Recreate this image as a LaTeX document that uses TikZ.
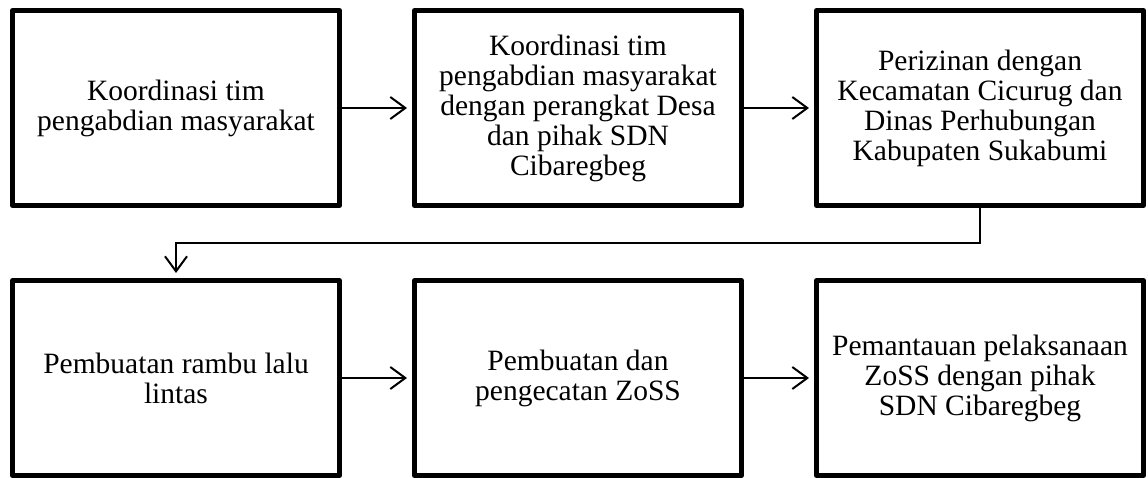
\documentclass[tikz,border=0pt]{standalone}
\usepackage{fontspec}
\setmainfont{Liberation Serif}
\usetikzlibrary{arrows.meta}
\begin{document}
\begin{tikzpicture}[x=1pt,y=1pt,
  stepbox/.style={draw, line width=5pt, line join=round, minimum width=327pt, minimum height=195pt, inner sep=0pt, align=center, font=\fontsize{29.5pt}{30pt}\selectfont},
  flow/.style={line width=2pt, -{Straight Barb[length=15pt,width=22pt]}, shorten >=5pt}]
\useasboundingbox (0,0) rectangle (1148,-478);
\node[stepbox] (b1) at (176,-108) {Koordinasi tim\\pengabdian masyarakat};
\node[stepbox] (b2) at (578,-108) {Koordinasi tim\\pengabdian masyarakat\\dengan perangkat Desa\\dan pihak SDN\\Cibaregbeg};
\node[stepbox] (b3) at (980,-108) {Perizinan dengan\\Kecamatan Cicurug dan\\Dinas Perhubungan\\Kabupaten Sukabumi};
\node[stepbox] (b4) at (176,-378) {Pembuatan rambu lalu\\lintas};
\node[stepbox] (b5) at (578,-378) {Pembuatan dan\\pengecatan ZoSS};
\node[stepbox] (b6) at (980,-378) {Pemantauan pelaksanaan\\ZoSS dengan pihak\\SDN Cibaregbeg};
\coordinate (turn) at (980,-243);
\draw[flow] (b1) -- (b2);
\draw[flow] (b2) -- (b3);
\draw[flow] (b3.south) -- (turn) -| (b4.north);
\draw[flow] (b4) -- (b5);
\draw[flow] (b5) -- (b6);
\end{tikzpicture}
\end{document}
